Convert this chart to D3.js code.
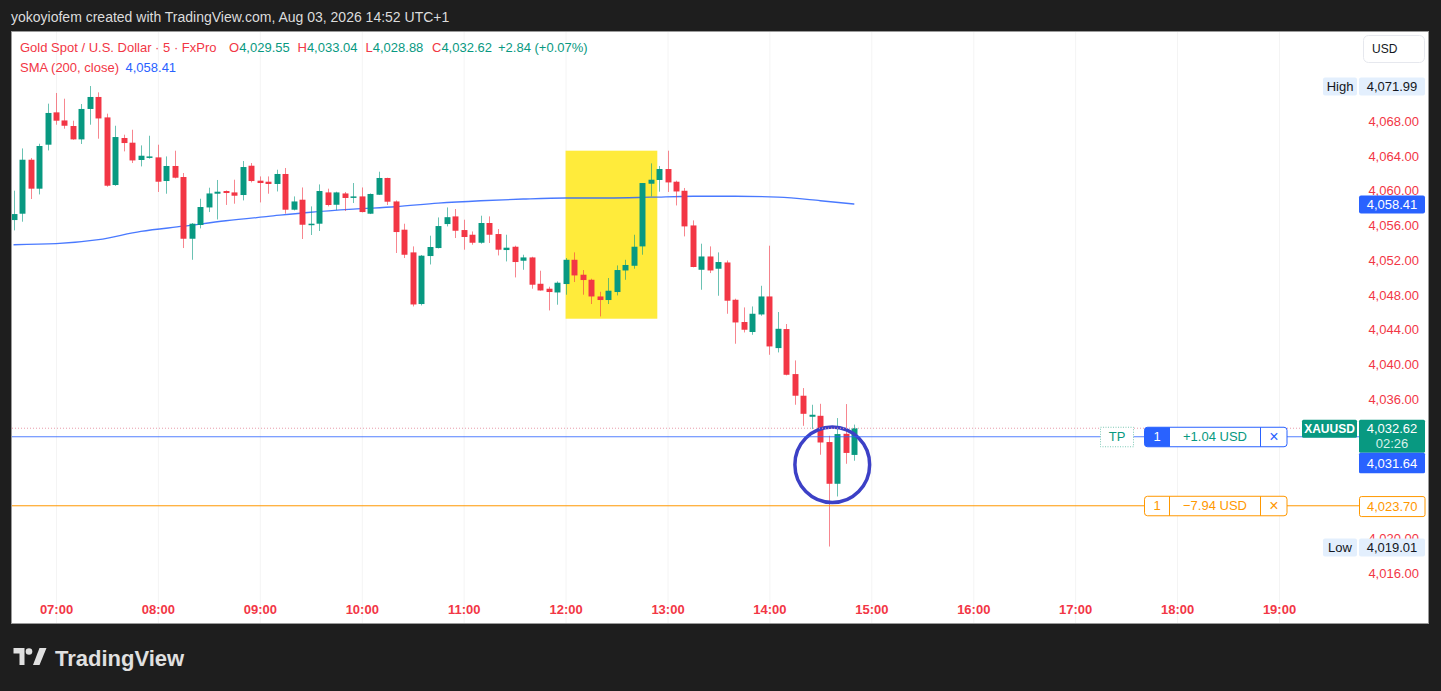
<!DOCTYPE html>
<html>
<head>
<meta charset="utf-8">
<script src="https://cdn.jsdelivr.net/npm/d3@7"></script>
<style>
html, body { margin: 0; padding: 0; background: #1e1e1e; }
svg { display: block; font-family: "Liberation Sans", Arial, sans-serif; }
</style>
</head>
<body>
<svg id="chart" width="1441" height="691"></svg>
<script>
// XAUUSD 5 min bars, first bar 06:35
const startTime = new Date(2026, 7, 3, 6, 35)

const opens = [4056.57, 4057.30, 4063.51, 4060.18, 4065.24, 4068.96, 4068.03, 4067.39, 4065.85, 4069.35,
  4070.73, 4068.38, 4060.60, 4066.01, 4065.47, 4063.48, 4063.74, 4063.78, 4061.06, 4062.79,
  4061.52, 4054.42, 4056.00, 4058.02, 4059.60, 4059.91, 4059.75, 4059.45, 4062.82, 4061.10,
  4060.98, 4060.72, 4061.87, 4057.76, 4058.91, 4056.00, 4056.15, 4059.75, 4058.33, 4059.63,
  4059.14, 4059.29, 4057.30, 4059.48, 4061.41, 4058.71, 4055.46, 4052.85, 4046.91, 4052.43,
  4053.35, 4056.11, 4056.99, 4055.42, 4054.88, 4053.96, 4056.23, 4054.96, 4053.12, 4053.50,
  4051.89, 4052.27, 4049.24, 4048.67, 4048.24, 4049.21, 4052.00, 4050.28, 4049.70, 4047.78,
  4047.37, 4048.29, 4050.77, 4051.31, 4053.54, 4060.75, 4061.18, 4062.44, 4060.98, 4059.94,
  4055.95, 4050.85, 4052.38, 4050.97, 4051.69, 4047.40, 4044.84, 4043.69, 4045.71, 4047.78,
  4041.84, 4044.03, 4038.85, 4036.36, 4033.94, 4034.05, 4031.03, 4026.23, 4031.98, 4029.55]

const highs = [4059.95, 4064.81, 4063.71, 4065.35, 4069.96, 4071.19, 4070.53, 4068.00, 4069.92, 4071.99,
  4071.26, 4068.81, 4067.42, 4066.39, 4066.96, 4065.16, 4066.27, 4065.24, 4063.89, 4064.55,
  4061.98, 4056.23, 4059.02, 4060.29, 4061.18, 4059.98, 4061.21, 4063.36, 4063.13, 4061.59,
  4061.59, 4062.36, 4062.56, 4059.29, 4060.32, 4058.14, 4060.67, 4060.18, 4059.83, 4059.80,
  4060.83, 4060.32, 4059.63, 4062.13, 4061.44, 4058.83, 4056.15, 4053.54, 4052.55, 4054.77,
  4056.87, 4058.02, 4057.84, 4056.61, 4055.26, 4057.07, 4056.99, 4055.54, 4054.88, 4053.62,
  4052.58, 4052.35, 4050.74, 4048.90, 4049.51, 4052.20, 4052.85, 4050.82, 4049.82, 4048.32,
  4049.90, 4051.35, 4052.00, 4054.88, 4060.83, 4063.09, 4062.79, 4064.55, 4061.10, 4060.26,
  4056.53, 4053.85, 4053.54, 4052.85, 4051.92, 4047.52, 4046.52, 4046.63, 4049.01, 4053.62,
  4045.99, 4044.61, 4040.42, 4037.24, 4035.32, 4035.43, 4031.75, 4033.79, 4035.40, 4033.04]

const lows = [4055.38, 4056.38, 4058.99, 4059.52, 4064.58, 4067.54, 4067.08, 4065.81, 4065.32, 4067.54,
  4065.93, 4060.40, 4060.50, 4064.47, 4063.13, 4062.74, 4063.63, 4059.80, 4059.60, 4061.36,
  4053.35, 4052.00, 4055.61, 4057.49, 4056.64, 4058.31, 4058.45, 4058.83, 4060.90, 4058.60,
  4059.60, 4059.86, 4057.30, 4057.68, 4054.39, 4054.85, 4055.31, 4058.14, 4057.72, 4057.61,
  4058.53, 4057.45, 4057.26, 4059.45, 4058.30, 4052.78, 4052.20, 4046.63, 4046.75, 4051.46,
  4053.30, 4055.84, 4054.50, 4053.16, 4053.73, 4053.85, 4053.93, 4052.50, 4051.81, 4049.97,
  4050.85, 4048.67, 4048.45, 4046.17, 4046.83, 4047.98, 4049.44, 4047.98, 4046.91, 4045.48,
  4046.91, 4047.90, 4049.70, 4050.97, 4052.58, 4059.29, 4059.83, 4059.80, 4058.25, 4054.69,
  4051.13, 4048.55, 4050.47, 4047.86, 4045.79, 4042.34, 4043.64, 4043.37, 4045.56, 4041.07,
  4041.34, 4038.70, 4035.32, 4032.90, 4032.52, 4029.57, 4019.01, 4024.77, 4028.53, 4028.88]

const closes = [4057.26, 4063.51, 4060.18, 4065.09, 4068.89, 4068.00, 4067.42, 4065.85, 4069.35, 4070.73,
  4068.26, 4060.52, 4066.12, 4065.43, 4063.43, 4063.97, 4063.89, 4060.98, 4062.79, 4061.44,
  4054.42, 4056.15, 4058.07, 4059.63, 4059.83, 4059.68, 4059.37, 4062.67, 4061.06, 4060.83,
  4060.72, 4061.87, 4057.76, 4058.71, 4056.03, 4056.15, 4059.91, 4058.30, 4059.75, 4059.11,
  4059.29, 4057.49, 4059.57, 4061.41, 4058.68, 4055.19, 4052.58, 4046.86, 4052.47, 4053.47,
  4055.88, 4056.90, 4055.34, 4054.62, 4053.96, 4056.23, 4054.88, 4053.16, 4053.39, 4051.74,
  4052.27, 4049.13, 4048.47, 4048.29, 4049.36, 4052.00, 4050.20, 4049.67, 4047.78, 4047.37,
  4048.44, 4050.82, 4051.40, 4053.50, 4060.83, 4061.21, 4062.44, 4060.90, 4059.86, 4055.84,
  4051.17, 4052.38, 4050.77, 4051.74, 4047.29, 4044.79, 4043.95, 4045.79, 4047.78, 4042.03,
  4044.06, 4038.77, 4036.36, 4034.28, 4034.17, 4030.98, 4026.23, 4031.95, 4029.78, 4032.62]

// SMA(200) read at some bars (bar index -> value)
const smaIdx = [0, 5, 10, 15, 20, 25, 30, 35, 40, 45, 50, 55, 60, 65, 70, 75, 80, 85, 90, 95, 99]
const smaVals = [4053.73, 4053.85, 4054.31, 4055.26, 4055.86, 4056.49, 4056.99, 4057.47, 4057.82, 4058.10,
  4058.51, 4058.79, 4058.99, 4059.11, 4059.11, 4059.20, 4059.31, 4059.31, 4059.20, 4058.79, 4058.41]

const hourTicks = ["07:00", "08:00", "09:00", "10:00", "11:00", "12:00", "13:00", "14:00", "15:00", "16:00", "17:00", "18:00", "19:00"]
const priceTicks = [4016, 4020, 4024, 4028, 4032, 4036, 4040, 4044, 4048, 4052, 4056, 4060, 4064, 4068]

const dayHigh = 4071.99, dayLow = 4019.01
const tpPrice = 4031.64, slPrice = 4023.70
const tpPnl = 1.04, slPnl = -7.94, qty = 1
const countdown = "02:26"

// annotations drawn on the picture
const boxTimes = ["12:00", "12:54"], boxPrices = [4064.55, 4045.22]
const ringTimes = ["14:15", "14:59"], ringPrices = [4032.76, 4024.08]

const red = "#f23645", green = "#089981", blue = "#2962ff", orange = "#ff9800"
const font = "'Liberation Sans', Arial, sans-serif"

var parseHour = s => d3.timeParse("%Y-%m-%d %H:%M")("2026-08-03 " + s)

var bars = opens.map((o, i) => ({
  t: d3.timeMinute.offset(startTime, 5 * i), o: o, h: highs[i], l: lows[i], c: closes[i]
}))

var x = d3.scaleTime().domain([parseHour("07:00"), parseHour("19:00")]).range([56, 1279])
var y = d3.scaleLinear().domain([4016, 4068]).range([572.7, 120.7])

var fmt = d3.format(",.2f")
var barW = (x(d3.timeMinute.offset(startTime, 5)) - x(startTime)) * 0.7
var last = bars[bars.length - 1]

var svg = d3.select("#chart")

// header
svg.append("text").attr("x", 11).attr("y", 17).attr("dy", "0.35em")
  .attr("fill", "#dcdcdc").style("font-size", "14px")
  .text("yokoyiofem created with TradingView.com, Aug 03, 2026 14:52 UTC+1")

// white pane
svg.append("rect").attr("x", 11.5).attr("y", 31.5).attr("width", 1417).attr("height", 592)
  .attr("fill", "#fff").attr("stroke", "#9a9a9a")

svg.append("defs").append("clipPath").attr("id", "pane")
  .append("rect").attr("x", 12).attr("y", 32).attr("width", 1347).attr("height", 560)

// grid
svg.append("g").selectAll("line").data(hourTicks).join("line")
  .attr("x1", d => x(parseHour(d)) + 0.5).attr("x2", d => x(parseHour(d)) + 0.5)
  .attr("y1", 32).attr("y2", 623).attr("stroke", "#f4f4f4")

var plot = svg.append("g").attr("clip-path", "url(#pane)")

// yellow highlight
plot.append("rect")
  .attr("x", x(parseHour(boxTimes[0]))).attr("y", y(boxPrices[0]))
  .attr("width", x(parseHour(boxTimes[1])) - x(parseHour(boxTimes[0])))
  .attr("height", y(boxPrices[1]) - y(boxPrices[0]))
  .attr("fill", "#ffeb3b")

// SMA line
var smaLine = d3.line()
  .x((d, i) => x(bars[d].t))
  .y((d, i) => y(smaVals[i]))
  .curve(d3.curveMonotoneX)
plot.append("path").attr("d", smaLine(smaIdx))
  .attr("fill", "none").attr("stroke", blue).attr("stroke-width", 1.3).attr("opacity", 0.85)

// candles
var candle = plot.append("g").selectAll("g").data(bars).join("g")
  .attr("fill", d => d.c >= d.o ? green : red)
  .attr("stroke", d => d.c >= d.o ? green : red)
candle.append("line")
  .attr("x1", d => Math.round(x(d.t)) + 0.5).attr("x2", d => Math.round(x(d.t)) + 0.5)
  .attr("y1", d => y(d.h)).attr("y2", d => y(d.l))
  .attr("stroke-opacity", 0.6)
candle.append("rect")
  .attr("x", d => Math.round(x(d.t)) + 0.5 - barW / 2)
  .attr("y", d => y(Math.max(d.o, d.c)))
  .attr("width", barW)
  .attr("height", d => Math.max(1.5, Math.abs(y(d.o) - y(d.c))))
  .attr("stroke", "none")

// blue ring
var rx0 = x(parseHour(ringTimes[0])), rx1 = x(parseHour(ringTimes[1]))
var ry0 = y(ringPrices[0]), ry1 = y(ringPrices[1])
plot.append("ellipse")
  .attr("cx", (rx0 + rx1) / 2).attr("cy", (ry0 + ry1) / 2)
  .attr("rx", (rx1 - rx0) / 2).attr("ry", (ry1 - ry0) / 2)
  .attr("fill", "none").attr("stroke", "#3c40c6").attr("stroke-width", 3.5)

// price lines
svg.append("line").attr("x1", 12).attr("x2", 1302).attr("y1", y(last.c)).attr("y2", y(last.c))
  .attr("stroke", "#e89aaa").attr("stroke-dasharray", "1,2")
svg.append("line").attr("x1", 12).attr("x2", 1359).attr("y1", y(tpPrice)).attr("y2", y(tpPrice))
  .attr("stroke", blue).attr("stroke-opacity", 0.8)
svg.append("line").attr("x1", 12).attr("x2", 1359).attr("y1", y(slPrice)).attr("y2", y(slPrice))
  .attr("stroke", orange)

// order labels
function orderLabel(price, pnl, col, filled, textCol) {
  var cy = y(price)
  var g = svg.append("g").style("font-size", "13px")
  g.append("rect").attr("x", 1144.5).attr("y", cy - 9.5).attr("width", 142.5).attr("height", 19.5)
    .attr("rx", 3).attr("fill", "#fff").attr("stroke", col)
  if (filled) {
    g.append("path").attr("d", `M1147.5,${cy - 9.5}h21.5v19.5h-21.5a3,3 0 0 1 -3,-3v-13.5a3,3 0 0 1 3,-3z`).attr("fill", col)
  }
  g.append("line").attr("x1", 1169.5).attr("x2", 1169.5).attr("y1", cy - 9.5).attr("y2", cy + 10).attr("stroke", col)
  g.append("line").attr("x1", 1260.5).attr("x2", 1260.5).attr("y1", cy - 9.5).attr("y2", cy + 10).attr("stroke", col)
  g.append("text").attr("x", 1157).attr("y", cy).attr("dy", "0.35em").attr("text-anchor", "middle")
    .attr("fill", filled ? "#fff" : col).text(qty)
  g.append("text").attr("x", 1215).attr("y", cy).attr("dy", "0.35em").attr("text-anchor", "middle")
    .attr("fill", textCol).text((pnl >= 0 ? "+" : "\u2212") + Math.abs(pnl).toFixed(2) + " USD")
  g.append("text").attr("x", 1274).attr("y", cy).attr("dy", "0.35em").attr("text-anchor", "middle")
    .attr("fill", col).style("font-size", "16px").text("\u00d7")
}
svg.append("rect").attr("x", 1100.5).attr("y", y(tpPrice) - 9.5).attr("width", 33).attr("height", 19.5)
  .attr("fill", "#fff").attr("stroke", "#7cc9b6").attr("stroke-dasharray", "1,1.5")
svg.append("text").attr("x", 1117).attr("y", y(tpPrice)).attr("dy", "0.35em").attr("text-anchor", "middle")
  .attr("fill", green).style("font-size", "13px").text("TP")
orderLabel(tpPrice, tpPnl, blue, true, green)
orderLabel(slPrice, slPnl, orange, false, orange)

// axes
var xAxis = d3.axisBottom(x)
  .tickValues(hourTicks.map(parseHour))
  .tickFormat(d3.timeFormat("%H:%M"))
  .tickSize(0).tickPadding(0)
svg.append("g").attr("transform", "translate(0,609)").call(xAxis)
  .call(g => g.select(".domain").remove())
  .attr("font-family", font).attr("font-size", 13).attr("font-weight", "bold")
  .selectAll("text").attr("dy", "0.35em").attr("fill", red)

// price labels hidden under the badges are skipped, like the price scale does
var badgeSpans = [[y(last.c) - 8.5, y(last.c) + 45], [y(slPrice) - 9.5, y(slPrice) + 11]]
var shownTicks = priceTicks.filter(v => !badgeSpans.some(s => y(v) > s[0] && y(v) < s[1]))
var yAxis = d3.axisLeft(y).tickValues(shownTicks).tickFormat(fmt).tickSize(0).tickPadding(0)
svg.append("g").attr("transform", "translate(1419,0)").call(yAxis)
  .call(g => g.select(".domain").remove())
  .attr("font-family", font).attr("font-size", 13)
  .selectAll("text").attr("dy", "0.35em").attr("fill", red)

// price scale badges
function badge(x0, w, cy, h, fill, stroke, txt, col) {
  svg.append("rect").attr("x", x0).attr("y", cy - h / 2).attr("width", w).attr("height", h)
    .attr("rx", 2).attr("fill", fill).attr("stroke", stroke || "none")
  svg.append("text").attr("x", x0 + w / 2).attr("y", cy).attr("dy", "0.35em").attr("text-anchor", "middle")
    .attr("fill", col).style("font-size", "13px").text(txt)
}
badge(1323, 34, y(dayHigh) + 0.5, 18, "#e3effd", null, "High", "#131722")
badge(1359, 66, y(dayHigh) + 0.5, 18, "#e3effd", null, fmt(dayHigh), "#131722")
badge(1359, 66, y(smaVals[smaVals.length - 1]) + 0.5, 18, blue, null, fmt(smaVals[smaVals.length - 1]), "#fff")
badge(1323, 34, y(dayLow) + 1, 18, "#e3effd", null, "Low", "#131722")
badge(1359, 66, y(dayLow) + 1, 18, "#e3effd", null, fmt(dayLow), "#131722")
badge(1359.5, 65.5, y(slPrice) + 0.8, 20, "#fff", orange, fmt(slPrice), orange)

// last price
var ly = y(last.c)
svg.append("rect").attr("x", 1302).attr("y", ly - 8.5).attr("width", 55).attr("height", 18).attr("rx", 1.5).attr("fill", green)
svg.append("text").attr("x", 1329.5).attr("y", ly + 0.5).attr("dy", "0.35em").attr("text-anchor", "middle")
  .attr("fill", "#fff").style("font-size", "12px").style("font-weight", "bold").text("XAUUSD")
svg.append("rect").attr("x", 1359).attr("y", ly - 8.5).attr("width", 66).attr("height", 33).attr("rx", 1.5).attr("fill", green)
svg.append("text").attr("x", 1392).attr("y", ly + 0.5).attr("dy", "0.35em").attr("text-anchor", "middle")
  .attr("fill", "#fff").style("font-size", "13px").text(fmt(last.c))
svg.append("text").attr("x", 1392).attr("y", ly + 15.5).attr("dy", "0.35em").attr("text-anchor", "middle")
  .attr("fill", "#d8f1ea").style("font-size", "13px").text(countdown)
svg.append("rect").attr("x", 1359).attr("y", ly + 24.5).attr("width", 66).attr("height", 20.5).attr("rx", 1.5).attr("fill", blue)
svg.append("text").attr("x", 1392).attr("y", ly + 35).attr("dy", "0.35em").attr("text-anchor", "middle")
  .attr("fill", "#fff").style("font-size", "13px").text(fmt(tpPrice))

// USD button
svg.append("rect").attr("x", 1363.5).attr("y", 35.5).attr("width", 61).attr("height", 27).attr("rx", 5)
  .attr("fill", "#fff").attr("stroke", "#e6e8ee")
svg.append("text").attr("x", 1372).attr("y", 49).attr("dy", "0.35em").attr("fill", "#131722")
  .style("font-size", "12px").text("USD")

// legend
var prev = bars[bars.length - 2]
var chg = last.c - prev.c
var legend = svg.append("text").attr("x", 20).attr("y", 47).attr("dy", "0.35em").style("font-size", "13px")
legend.append("tspan").attr("fill", red).text("Gold Spot / U.S. Dollar \u00b7 5 \u00b7 FxPro")
var ohlc = [["O", last.o, 229], ["H", last.h, 297.5], ["L", last.l, 365.5], ["C", last.c, 432]]
ohlc.forEach(d => {
  legend.append("tspan").attr("x", d[2]).attr("fill", red).text(d[0])
  legend.append("tspan").attr("fill", green).text(fmt(d[1]))
})
legend.append("tspan").attr("x", 498).attr("fill", green)
  .text((chg >= 0 ? "+" : "\u2212") + chg.toFixed(2) + " (" + (chg >= 0 ? "+" : "\u2212") + (chg / prev.c * 100).toFixed(2) + "%)")

var legend2 = svg.append("text").attr("x", 20).attr("y", 67).attr("dy", "0.35em").style("font-size", "13px")
legend2.append("tspan").attr("fill", red).text("SMA (200, close)")
legend2.append("tspan").attr("x", 125.5).attr("fill", blue).text(fmt(smaVals[smaVals.length - 1]))

// TradingView logo
var logo = svg.append("g").attr("fill", "#e0e0e0")
logo.append("path").attr("d", "M13.5,648h11v17h-5v-11.5h-6z")
logo.append("circle").attr("cx", 29).attr("cy", 651.5).attr("r", 3.3)
logo.append("path").attr("d", "M33,665l6.5,-17h7l-7,17z")
svg.append("text").attr("x", 55).attr("y", 658).attr("dy", "0.35em").attr("fill", "#e0e0e0")
  .style("font-size", "22px").style("font-weight", "bold").text("TradingView")
</script>
</body>
</html>
